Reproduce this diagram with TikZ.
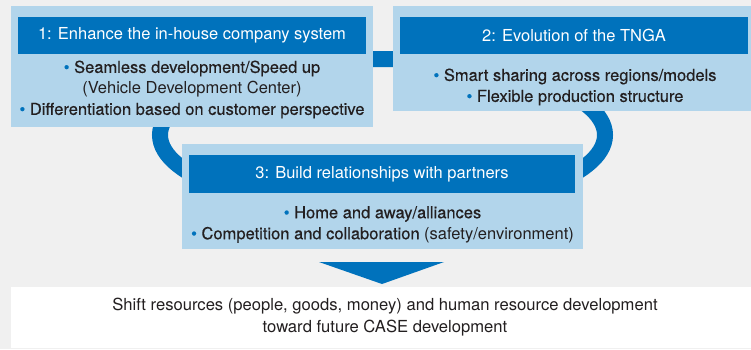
\documentclass[tikz,border=0pt]{standalone}
\usepackage{fontspec}
\setmainfont{TeX Gyre Heros}
\newfontfamily\medfont[FakeBold=0.4]{TeX Gyre Heros}
\definecolor{darkblue}{RGB}{0,114,188}
\definecolor{lightblue}{RGB}{178,213,235}
\definecolor{bggray}{RGB}{240,240,240}
\definecolor{textgray}{RGB}{35,31,32}
\newcommand{\blt}{{\color{darkblue}\textbullet}\ }
\begin{document}
\begin{tikzpicture}[x=1pt, y=-1pt]
    \tikzstyle{every node}=[inner sep=0pt, outer sep=0pt, text=textgray, font=\fontsize{16.5}{21}\selectfont]
    \tikzstyle{panel}=[fill=lightblue]
    \tikzstyle{header}=[fill=darkblue, text=white]
    \tikzstyle{bullets}=[align=center, font=\fontsize{16.5}{21}\selectfont\medfont]
    \fill[bggray] (0,0) rectangle (751,349);
    \useasboundingbox (0,0) rectangle (751,349);
    % ring behind the three boxes
    \draw[darkblue, line width=16pt] (382.5,135) ellipse [x radius=222.5, y radius=76];
    % box 1
    \node [panel, minimum width=362pt, minimum height=121pt] (box1) at (192,66.5) {};
    \node [header, minimum width=348pt, minimum height=37pt] (head1) at (192,35.5) {1: Enhance the in-house company system};
    \node [bullets] (text1) at (192,89.5) {\blt Seamless development/Speed up\\{\normalfont(Vehicle Development Center)}\\\blt Differentiation based on customer perspective};
    % box 2
    \node [panel, minimum width=358pt, minimum height=105pt] (box2) at (572,58.5) {};
    \node [header, minimum width=348pt, minimum height=37pt] (head2) at (574,35.5) {2: Evolution of the TNGA};
    \node [bullets] (text2) at (575,87) {\blt Smart sharing across regions/models\\\blt Flexible production structure};
    % box 3
    \node [panel, minimum width=401pt, minimum height=105pt] (box3) at (382.5,196.5) {};
    \node [header, minimum width=386pt, minimum height=38pt] (head3) at (382,174) {3: Build relationships with partners};
    \node [bullets] (text3) at (382.5,224.5) {\blt Home and away/alliances\\\blt Competition and collaboration {\normalfont(safety/environment)}};
    % result
    \node [fill=white, minimum width=740pt, minimum height=61pt] (result) at (381,317.5) {};
    \node [align=center, font=\fontsize{16.6}{22}\selectfont] (text4) at (385,317.5) {Shift resources (people, goods, money) and human resource development\\toward future CASE development};
    \coordinate (tipl) at (319,262);
    \coordinate (tipr) at (444,262);
    \coordinate (tip) at (382,284);
    \fill[darkblue] (tipl) -- (tipr) -- (tip) -- cycle;
\end{tikzpicture}
\end{document}
